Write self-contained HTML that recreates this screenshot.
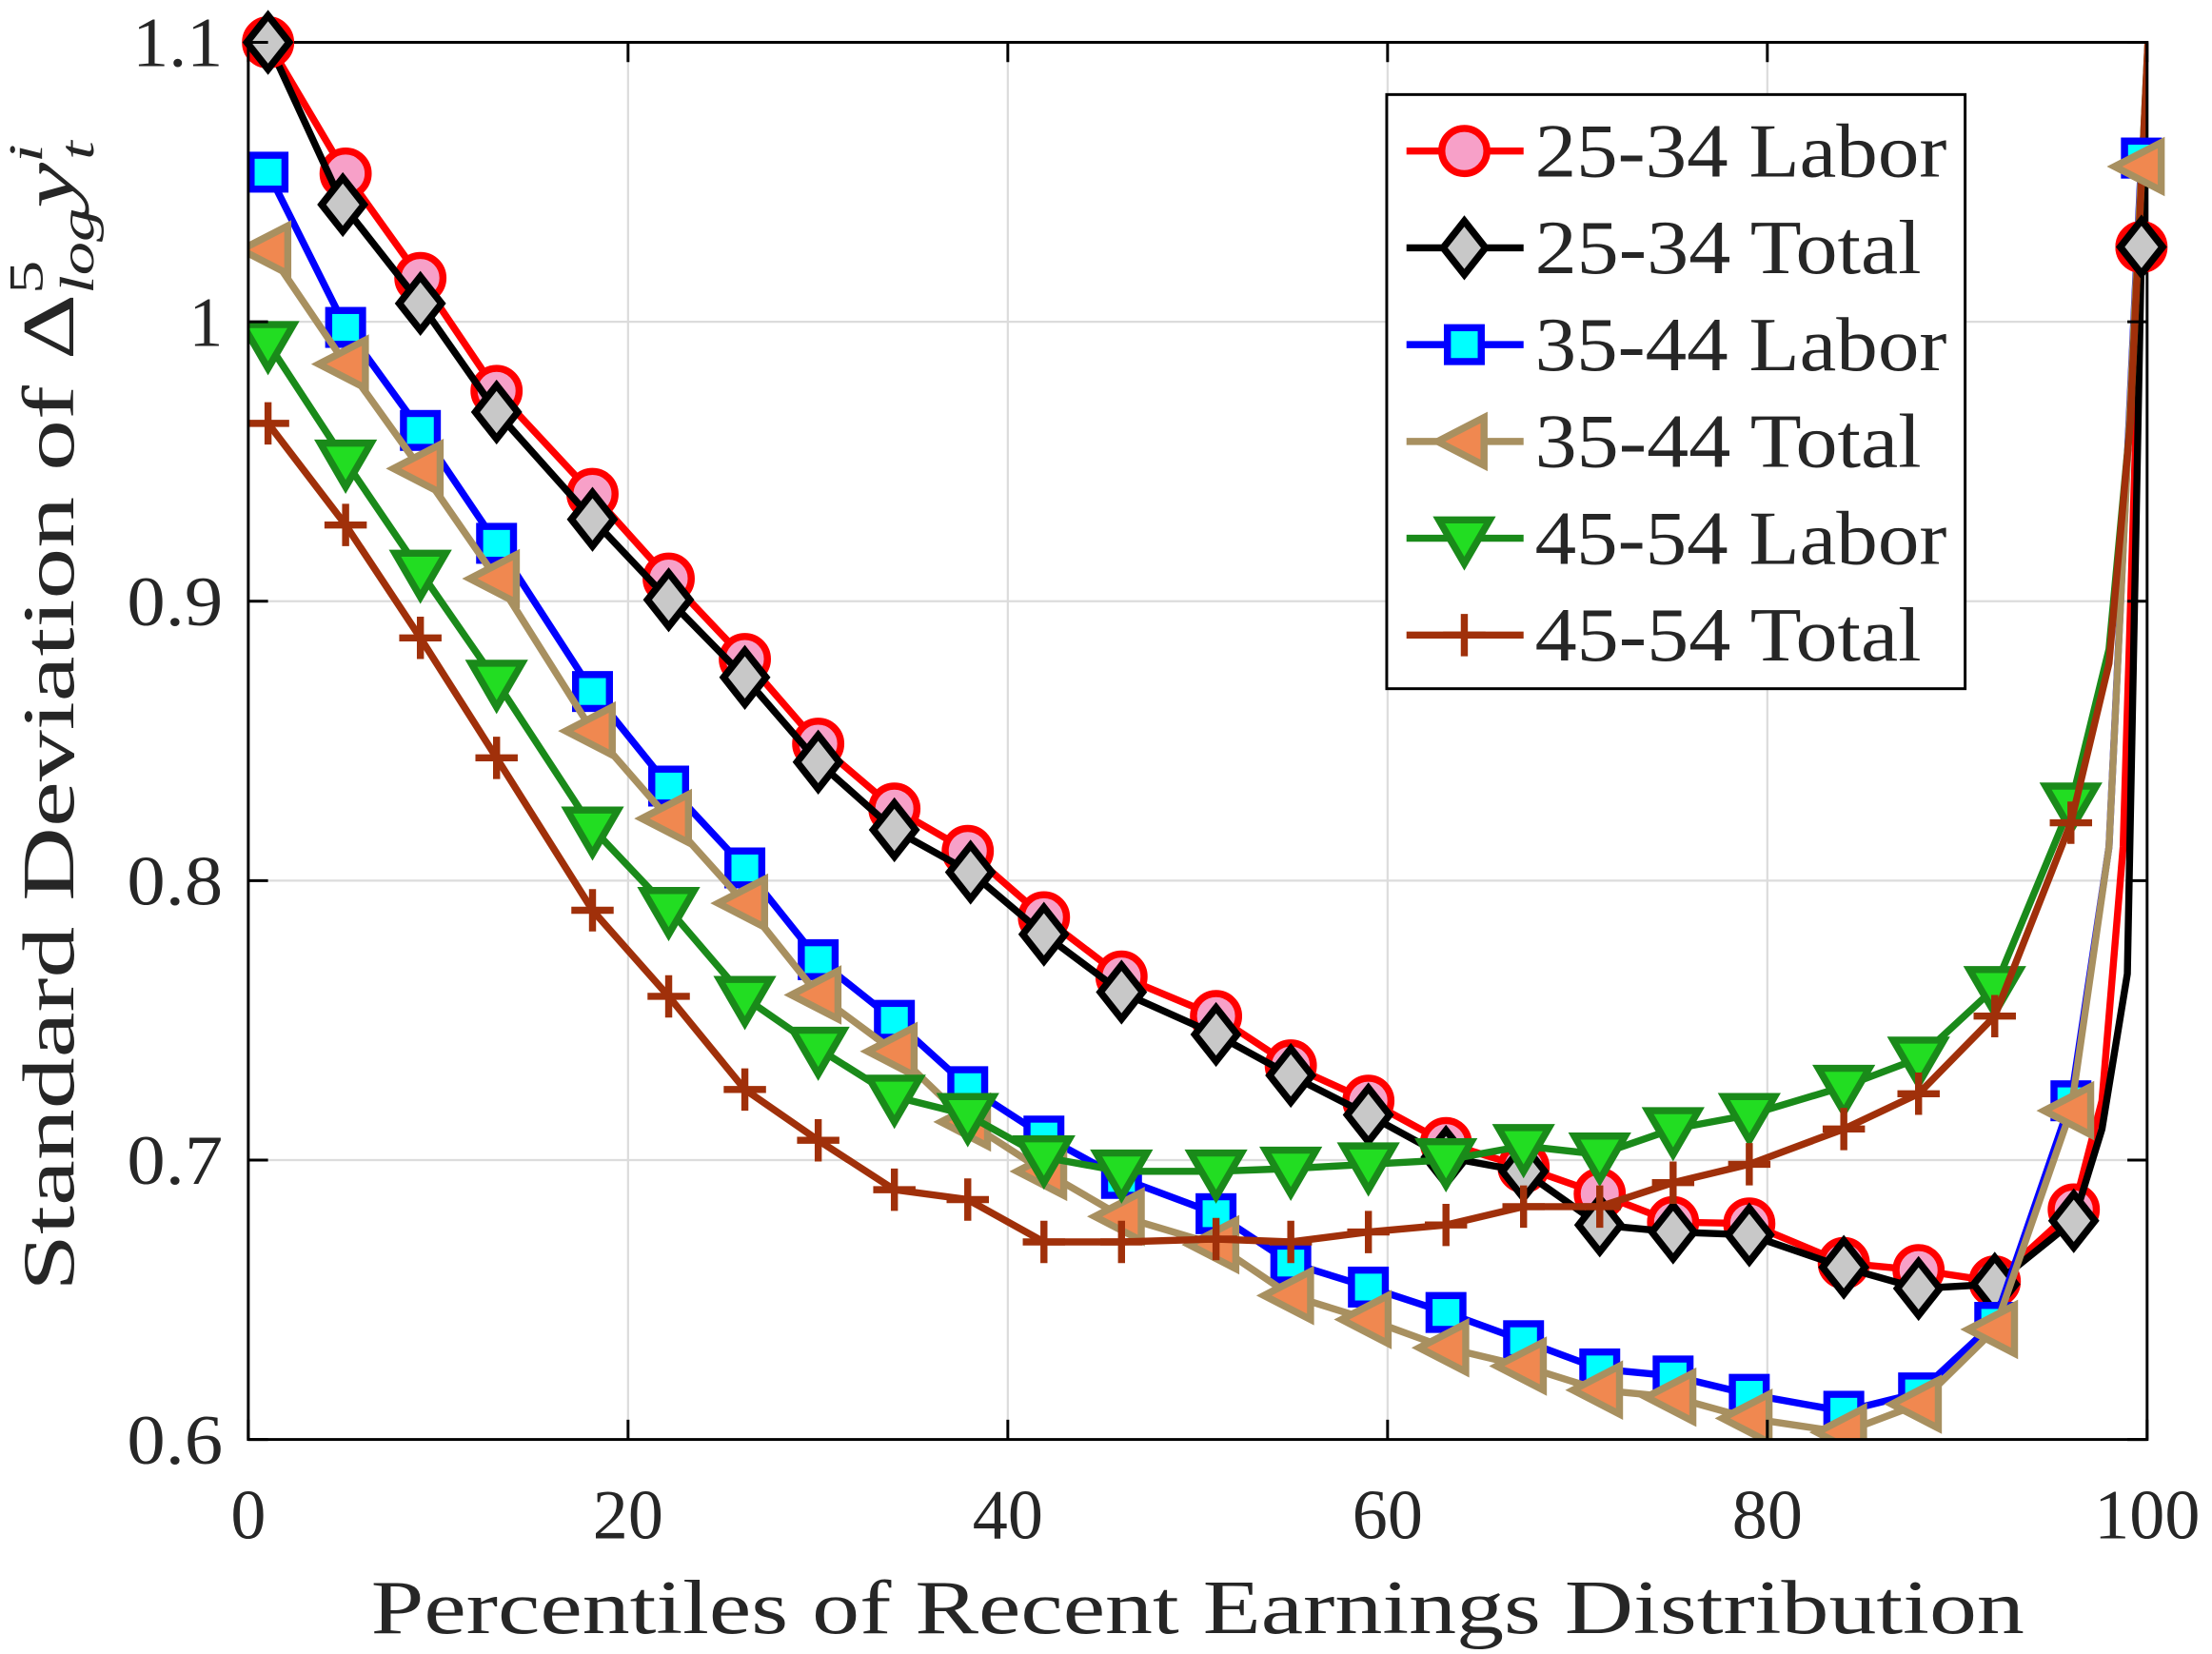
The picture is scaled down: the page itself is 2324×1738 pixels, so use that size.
<!DOCTYPE html>
<html><head><meta charset="utf-8"><style>html,body{margin:0;padding:0;background:#fff}svg{display:block}</style></head>
<body>
<svg id="s" width="2324" height="1738" viewBox="0 0 1568 1172" preserveAspectRatio="none" xmlns="http://www.w3.org/2000/svg" font-family="'Liberation Serif',serif">
<defs><clipPath id="c"><rect x="176" y="30" width="1346" height="990"/></clipPath></defs>
<rect x="0" y="0" width="1568" height="1172" fill="#fff"/>
<g id="grid" stroke="#dcdcdc" stroke-width="1.5"></g>
<g id="series" clip-path="url(#c)"></g>
<rect x="176" y="30" width="1346" height="990" fill="none" stroke="#000" stroke-width="2"/>
<g id="marks"></g>
<g id="ticks" stroke="#000" stroke-width="2"></g>
<g id="labels" font-size="50" fill="#262626"></g>
<text x="263" y="1157" font-size="54" fill="#262626" textLength="1172" lengthAdjust="spacingAndGlyphs">Percentiles of Recent Earnings Distribution</text>
<text transform="translate(52,915) rotate(-90)" font-size="52" fill="#262626" textLength="815" lengthAdjust="spacingAndGlyphs">Standard Deviation of Δ<tspan font-size="34" dy="-22">5</tspan><tspan font-size="34" font-style="italic" dx="-17" dy="36">log</tspan><tspan font-style="italic" dy="-14">y</tspan><tspan font-size="34" font-style="italic" dy="-22">i</tspan><tspan font-size="34" font-style="italic" dx="-8" dy="36">t</tspan></text>
<g id="legend"></g>
</svg>
<script>
const NS="http://www.w3.org/2000/svg";
function el(p,t,a,txt){const e=document.createElementNS(NS,t);for(const k in a)e.setAttribute(k,a[k]);if(txt!=null)e.textContent=txt;document.getElementById(p).appendChild(e);return e;}
const X0=176,X1=1522,Y0=30,Y1=1020;
for(let i=1;i<5;i++){const x=X0+i*(X1-X0)/5;el("grid","line",{x1:x,x2:x,y1:Y0,y2:Y1});}
for(let i=1;i<5;i++){const y=Y0+i*198;el("grid","line",{x1:X0,x2:X1,y1:y,y2:y});}
for(let i=0;i<=5;i++){const x=X0+i*(X1-X0)/5;el("ticks","line",{x1:x,x2:x,y1:Y1,y2:Y1-14});el("ticks","line",{x1:x,x2:x,y1:Y0,y2:Y0+14});
el("labels","text",{x:x,y:1090,"text-anchor":"middle"},String(i*20));}
const yl=["1.1","1","0.9","0.8","0.7","0.6"];
for(let i=0;i<6;i++){const y=Y0+i*198;el("ticks","line",{x1:X0,x2:X0+14,y1:y,y2:y});el("ticks","line",{x1:X1,x2:X1-14,y1:y,y2:y});
const w=yl[i].length==1?24:(yl[i]=="1.1"?64:68);
el("labels","text",{x:158-w,y:y+17,textLength:w,lengthAdjust:"spacingAndGlyphs"},yl[i]);}
const S=[
{n:"25-34 Labor",c:"#ff0000",f:"#f7a0c8",m:"o",p:[[190,30],[245,123],[298,197],[352,277],[420,350],[474,410],[528,467],[580,527],[634,573],[686,603],[740,650],[795,692],[862,720],[915,755],[970,780],[1025,810],[1080,827],[1134,846],[1186,866],[1240,867],[1307,895],[1360,900],[1414,908],[1470,857],[1490,780,0],[1505,600,0],[1518,175],[1524,0,0]]},
{n:"25-34 Total",c:"#000000",f:"#c8c8c8",m:"d",p:[[190,30],[243,145],[298,215],[352,292],[420,368],[474,425],[528,480],[580,540],[634,588],[688,618],[740,662],[795,703],[862,733],[915,762],[970,790],[1025,820],[1080,830],[1134,868],[1186,873],[1240,875],[1307,898],[1360,913],[1414,910],[1470,865],[1490,800,0],[1508,690,0],[1518,175],[1524,0,0]]},
{n:"35-44 Labor",c:"#0000ff",f:"#00ffff",m:"s",p:[[190,122],[245,232],[298,305],[352,385],[420,490],[474,557],[528,615],[580,680],[634,723],[686,770],[740,805],[795,835],[862,860],[915,895],[970,912],[1025,930],[1080,950],[1134,970],[1186,975],[1240,988],[1307,1000],[1360,987],[1414,937],[1468,780],[1495,600,0],[1518,112]]},
{n:"35-44 Total",c:"#a89060",f:"#f08850",m:"l",p:[[190,177],[245,258],[298,332],[352,410],[420,518],[474,580],[528,640],[580,705],[634,745],[686,795],[740,830],[795,862],[862,882],[915,918],[970,935],[1025,955],[1080,968],[1134,985],[1186,990],[1240,1005],[1307,1015],[1360,995],[1414,942],[1468,787],[1495,600,0],[1518,118]]},
{n:"45-54 Labor",c:"#1a8a1a",f:"#22dd22",m:"v",p:[[190,243],[245,327],[298,405],[352,483],[420,587],[474,644],[528,707],[580,743],[634,777],[686,790],[740,820],[795,830],[862,830],[915,828],[970,825],[1025,822],[1080,812],[1134,818],[1186,800],[1240,790],[1307,770],[1360,750],[1414,700],[1468,570],[1495,460,0],[1510,300,0],[1524,0,0]]},
{n:"45-54 Total",c:"#a0300a",f:"#a0300a",m:"+",p:[[190,300],[245,372],[298,452],[352,537],[420,645],[474,706],[528,772],[580,808],[634,843],[686,850],[740,880],[795,880],[862,878],[915,880],[970,873],[1025,868],[1080,855],[1134,855],[1186,838],[1240,825],[1307,800],[1360,775],[1414,720],[1468,583],[1495,470,0],[1510,300,0],[1524,0,0]]}
];
function marker(g,m,x,y,c,f){
 const a={stroke:c,"stroke-width":5,fill:f};
 if(m=="o")el(g,"circle",Object.assign({cx:x,cy:y,r:16},a));
 else if(m=="d")el(g,"polygon",Object.assign({points:`${x},${y-19} ${x+15},${y} ${x},${y+19} ${x-15},${y}`},a));
 else if(m=="s")el(g,"rect",Object.assign({x:x-12,y:y-12,width:24,height:24},a));
 else if(m=="l")el(g,"polygon",Object.assign({points:`${x-19},${y} ${x+14},${y-17} ${x+14},${y+17}`},a));
 else if(m=="v")el(g,"polygon",Object.assign({points:`${x-18},${y-13} ${x+18},${y-13} ${x},${y+18}`},a));
 else {el(g,"line",{x1:x-15,x2:x+15,y1:y,y2:y,stroke:c,"stroke-width":5});el(g,"line",{x1:x,x2:x,y1:y-15,y2:y+15,stroke:c,"stroke-width":5});}
}
for(const s of S){
 el("series","polyline",{points:s.p.map(q=>q[0]+","+q[1]).join(" "),fill:"none",stroke:s.c,"stroke-width":5,"stroke-linejoin":"round"});
 for(const q of s.p){if(q.length<3)marker("series",s.m,q[0],q[1],s.c,s.f);}
}
// unclipped copies of edge markers
for(const s of S){for(const q of s.p){if(q.length<3&&(q[0]>1500||q[1]<45))marker("marks",s.m,q[0],q[1],s.c,s.f);}}
el("legend","rect",{x:983,y:67,width:410,height:421,fill:"#fff",stroke:"#000","stroke-width":2});
S.forEach((s,i)=>{const y=107+i*68.6;
 el("legend","line",{x1:997,x2:1080,y1:y,y2:y,stroke:s.c,"stroke-width":5});
 marker("legend",s.m,1038,y,s.c,s.f);
 el("legend","text",{x:1088,y:y+18,"font-size":54,fill:"#262626",textLength:s.n.includes("Labor")?292:274,lengthAdjust:"spacingAndGlyphs"},s.n);});
</script>
</body></html>
